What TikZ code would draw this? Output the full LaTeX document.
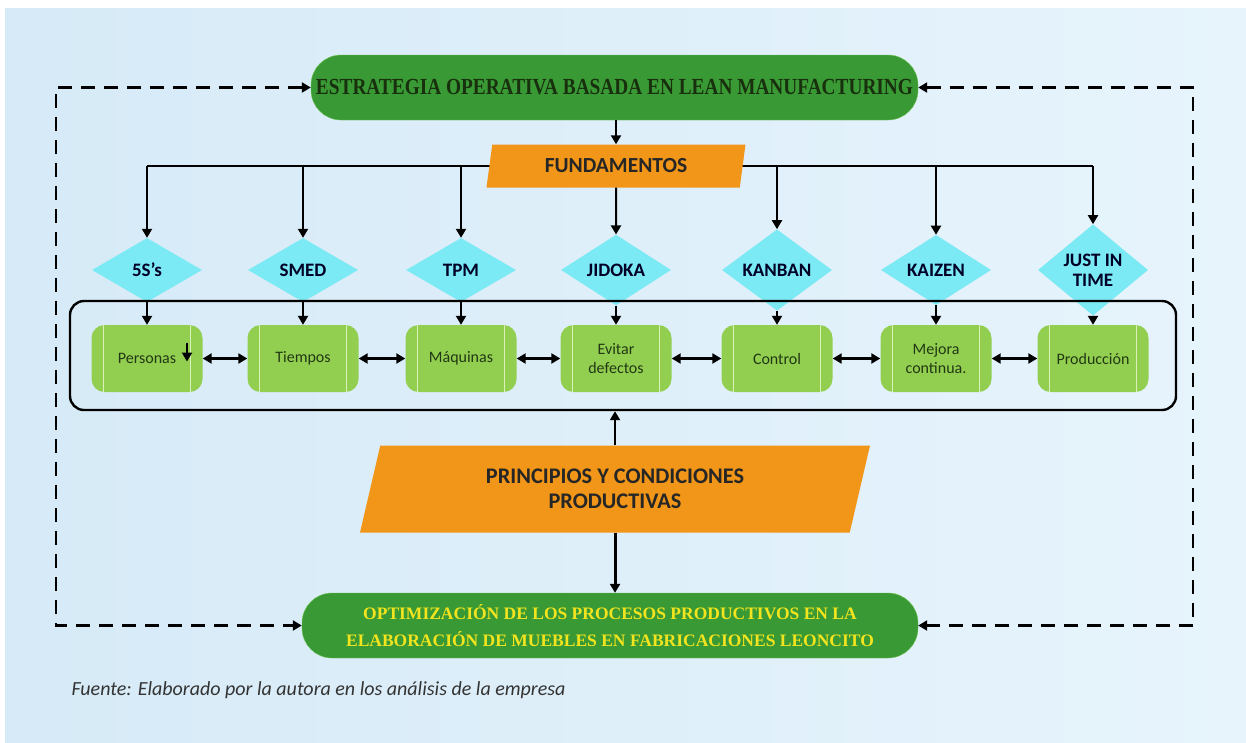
\documentclass[tikz,border=0pt]{standalone}
\usepackage{fontspec}
\setmainfont{Liberation Serif}
\setsansfont{Carlito}
\usepackage{xcolor}
\usepackage{tikz}
\usetikzlibrary{arrows.meta,positioning,shapes.geometric}

\definecolor{bgleft}{RGB}{214,234,247}
\definecolor{bgright}{RGB}{231,244,252}
\definecolor{leangreen}{RGB}{57,153,52}
\definecolor{leanedge}{RGB}{112,196,84}
\definecolor{leantext}{RGB}{24,48,14}
\definecolor{goalyellow}{RGB}{242,228,30}
\definecolor{fundorange}{RGB}{241,150,24}
\definecolor{diamcyan}{RGB}{124,234,244}
\definecolor{procgreen}{RGB}{146,207,80}
\definecolor{procline}{RGB}{218,242,184}
\definecolor{proctext}{RGB}{34,56,20}

\begin{document}
\begin{tikzpicture}[x=1pt,y=-1pt,
      lean_st/.style={
         rectangle,
         rounded corners=30pt,
         draw=leanedge,
         fill=leangreen,
         minimum width=607pt,
         minimum height=65pt,
         align=center},
      fund_st/.style={
         trapezium,
         trapezium left angle=#1,
         trapezium right angle=180-#1,
         trapezium stretches body,
         fill=fundorange,
         inner sep=0pt,
         align=center,
         text=black!85,
         font=\sffamily\bfseries},
      diam_st/.style={
         diamond,
         fill=diamcyan,
         inner sep=0pt,
         minimum width=110pt,
         minimum height=64pt,
         align=center,
         text=black!85!blue,
         font=\sffamily\bfseries\fontsize{19}{20}\selectfont},
      proc_st/.style={
         rectangle,
         rounded corners=13pt,
         fill=procgreen,
         minimum width=111pt,
         minimum height=67pt,
         align=center,
         text=proctext,
         font=\sffamily\fontsize{16}{19}\selectfont,
         path picture={
           \draw[procline,line width=1.2pt]
             ([xshift=12pt]path picture bounding box.north west) --
             ([xshift=12pt]path picture bounding box.south west);
           \draw[procline,line width=1.2pt]
             ([xshift=-12pt]path picture bounding box.north east) --
             ([xshift=-12pt]path picture bounding box.south east);}},
      arrow_black/.style={
        line width=2pt,
        -{Triangle[length=9pt,width=10pt]},
      },
      both_black/.style={
        line width=2.2pt,
        {Triangle[length=9pt,width=10pt]}-{Triangle[length=9pt,width=10pt]},
      },
      dash_black/.style={
        line width=2.2pt,
        dash pattern=on 14pt off 9pt,
        {Triangle[length=9pt,width=10pt]}-{Triangle[length=9pt,width=10pt]},
      },
]
      %background
      \fill[white] (0,0) rectangle (1246,742);
      \shade[left color=bgleft,right color=bgright] (5,8) rectangle (1246,742);
      \useasboundingbox (0,0) rectangle (1246,742);

      %strategy and goal
      \node[lean_st,font=\bfseries\fontsize{23}{25}\selectfont,text=leantext] (lean) at (614.5,87.5)
        {\scalebox{0.84}[1]{ESTRATEGIA OPERATIVA BASADA EN LEAN MANUFACTURING}};
      \node[lean_st,minimum width=616pt,font=\bfseries\fontsize{17.5}{27}\selectfont,text=goalyellow] (goal) at (610,625.5)
        {OPTIMIZACIÓN DE LOS PROCESOS PRODUCTIVOS EN LA\\
         ELABORACIÓN DE MUEBLES EN FABRICACIONES LEONCITO};

      %tools and areas
      \foreach \i/\x/\tool/\area in {%
        1/147/5S’s/Personas,
        2/303/SMED/Tiempos,
        3/461/TPM/Máquinas,
        4/616/JIDOKA/Evitar\\defectos,
        5/777/KANBAN/Control,
        6/936/KAIZEN/Mejora\\continua.,
        7/1093/JUST IN\\TIME/Producción}
      {
        \node[diam_st] (d\i) at (\x,270) {\tool};
        \node[proc_st] (p\i) at (\x,358.5) {\area};
        \draw[arrow_black] (d\i.south) -- (p\i.north);
      }

      \node[draw=black,line width=2.4pt,rounded corners=14pt,minimum width=1106pt,minimum height=109pt] (frame) at (623,355.5) {};

      \foreach \i [count=\j from 2] in {1,...,6}
        \draw[both_black] (p\i.east) -- (p\j.west);

      \draw[arrow_black] ([xshift=40pt,yshift=16pt]p1.center) -- ([xshift=40pt,yshift=-3pt]p1.center);

      %fundamentos
      \coordinate (bus) at (616,166);
      \draw[line width=2pt] (d1 |- bus) -- (d7 |- bus);
      \foreach \i in {1,2,3,5,6,7}
        \draw[arrow_black] (d\i |- bus) -- (d\i.north);
      \node[fund_st=68,minimum width=259pt,minimum height=43pt,font=\sffamily\bfseries\fontsize{21.5}{23}\selectfont] (fund) at (bus) {FUNDAMENTOS};
      \draw[arrow_black] (lean.south -| fund.north) -- (fund.north);
      \draw[arrow_black] (fund.south) -- (d4.north);

      %principios
      \node[fund_st=63,minimum width=510pt,minimum height=87pt,font=\sffamily\bfseries\fontsize{22.3}{25}\selectfont] (princ) at (615,489)
        {PRINCIPIOS Y CONDICIONES\\PRODUCTIVAS};
      \draw[arrow_black] (princ.north) -- (princ.north |- frame.south);
      \draw[arrow_black,line width=3pt] (princ.south) -- (princ.south |- goal.north);

      %feedback
      \draw[dash_black] (lean.west) -- ++(-255,0) |- (goal.west);
      \draw[dash_black] (lean.east) -- ++(275,0) |- (goal.east);

      \node[anchor=west,text=black!80,font=\sffamily\itshape\fontsize{20}{22}\selectfont] (src) at (68,690)
        {Fuente: Elaborado por la autora en los análisis de la empresa};
\end{tikzpicture}
\end{document}
